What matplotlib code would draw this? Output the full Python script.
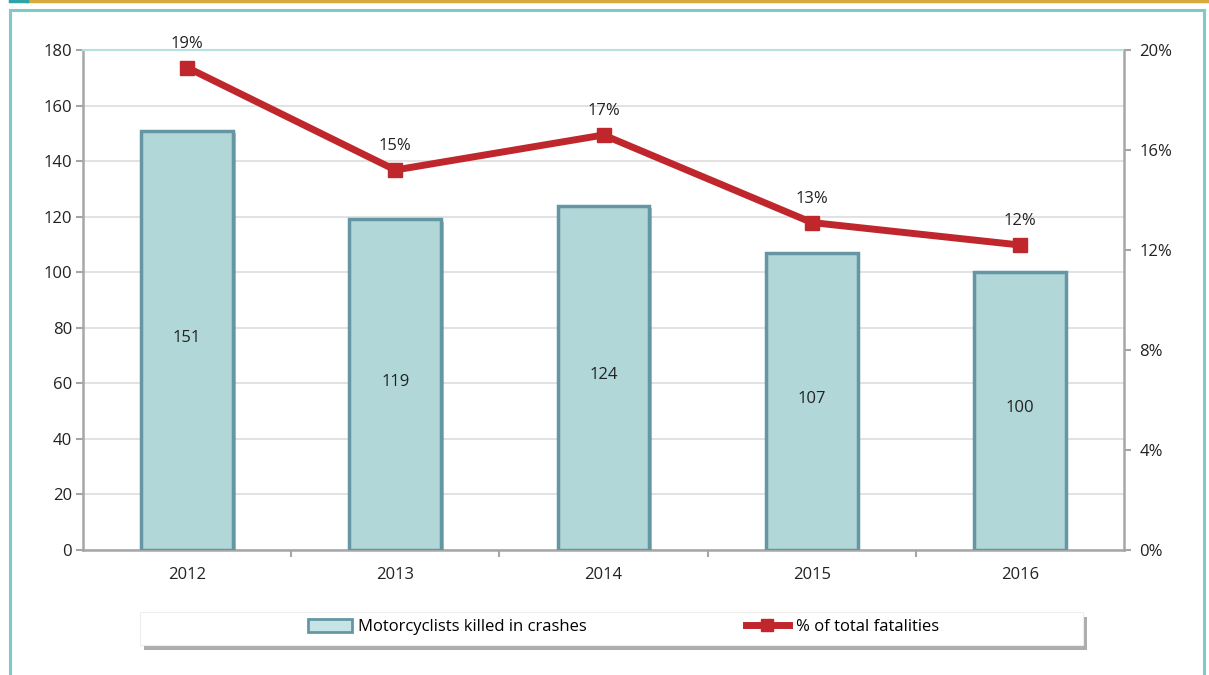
import matplotlib.pyplot as plt
import matplotlib.patheffects as pe
from matplotlib.patches import Rectangle
from matplotlib.lines import Line2D
from matplotlib.ticker import FuncFormatter, FixedLocator

plt.rcParams['font.family'] = ['Open Sans', 'DejaVu Sans']

# data
years = ['2012', '2013', '2014', '2015', '2016']
killed = [151, 119, 124, 107, 100]
pct_total = [19.3, 15.2, 16.6, 13.1, 12.2]
pct_labels = ['19%', '15%', '17%', '13%', '12%']
left_ticks = [0, 20, 40, 60, 80, 100, 120, 140, 160, 180]
right_ticks = [0, 4, 8, 12, 16, 20]

bar_fill = '#b1d7d9'
bar_edge = '#6497a3'
line_red = '#c0272d'
teal = '#7fc9cb'
axis_gray = '#a6a6a6'

fig = plt.figure(figsize=(12.09, 6.75), dpi=100)
ax = fig.add_axes([83 / 1209, 1 - 550 / 675, (1124 - 83) / 1209, 500 / 675])

x = list(range(len(years)))
bars = ax.bar(x, killed, width=0.44, color=bar_fill, edgecolor=bar_edge,
              linewidth=2.5, zorder=3)
for b in bars:
    b.set_path_effects([pe.SimplePatchShadow(offset=(2, -2), alpha=0.35),
                        pe.Normal()])
for xi, v in zip(x, killed):
    ax.text(xi, v / 2 + 1, str(v), ha='center', va='center', fontsize=12,
            color='#222222', zorder=5)

ax.set_xlim(-0.5, len(years) - 0.5)
ax.set_ylim(0, 180)
ax.set_yticks(left_ticks)
ax.set_xticks(x)
ax.set_xticklabels(years)
ax.xaxis.set_minor_locator(FixedLocator([i + 0.5 for i in range(len(years) - 1)]))
ax.tick_params(axis='x', which='major', length=0, pad=12, labelsize=12,
               labelcolor='#222222')
ax.tick_params(axis='x', which='minor', length=5, width=1.5, color=axis_gray)
ax.tick_params(axis='y', length=5, width=1.5, color=axis_gray, labelsize=12,
               labelcolor='#222222', pad=3)
ax.grid(axis='y', color='#dddddd', linewidth=1.2, zorder=0)
ax.set_axisbelow(True)
for s in ['left', 'bottom', 'right']:
    ax.spines[s].set_color(axis_gray)
    ax.spines[s].set_linewidth(1.8)
ax.spines['top'].set_color('#b5dfe2')
ax.spines['top'].set_linewidth(1.5)

ax2 = ax.twinx()
ax2.set_ylim(0, 20)
ax2.set_yticks(right_ticks)
ax2.yaxis.set_major_formatter(FuncFormatter(lambda v, p: f'{v:.0f}%'))
ax2.tick_params(axis='y', length=5, width=1.5, color=axis_gray, labelsize=12,
                labelcolor='#222222', pad=6)
for s in ax2.spines.values():
    s.set_visible(False)
ax2.plot(x, pct_total, color=line_red, linewidth=5, marker='s', markersize=10,
         zorder=4, solid_capstyle='butt')
for xi, v, lab in zip(x, pct_total, pct_labels):
    ax2.annotate(lab, (xi, v), xytext=(0, 17), textcoords='offset points',
                 ha='center', va='center', fontsize=12, color='#222222')

# legend box with shadow
lx0, ly0, lw, lh = 140 / 1209, 1 - 645 / 675, (1083 - 140) / 1209, 33 / 675
fig.patches.append(Rectangle((lx0 + 4 / 1209, ly0 - 5 / 675), lw, lh,
                             transform=fig.transFigure, facecolor='#777777',
                             edgecolor='none', alpha=0.6, zorder=1))
fig.patches.append(Rectangle((lx0, ly0), lw, lh, transform=fig.transFigure,
                             facecolor='white', edgecolor='#eeeeee',
                             linewidth=0.8, zorder=2))
handles = [
    Rectangle((0, 0), 1, 1, facecolor='#c5e4e6', edgecolor=bar_edge, linewidth=2),
    Line2D([], [], color=line_red, linewidth=5, marker='s', markersize=9),
]
fig.legend(handles, ['Motorcyclists killed in crashes', '% of total fatalities'],
           loc='center', bbox_to_anchor=(lx0 + lw / 2 + 0.01, ly0 + lh / 2 + 0.002),
           ncol=2, frameon=False, fontsize=12, columnspacing=9.5,
           handlelength=2.6, handleheight=0.8, handletextpad=0.4)

# outer frame
fig.patches.append(Rectangle((10 / 1209, -0.05), 1194 / 1209, 1.05 - 10 / 675,
                             transform=fig.transFigure, fill=False,
                             edgecolor=teal, linewidth=2.2))
fig.lines.append(Line2D([27 / 1209, 1], [1 - 1 / 675, 1 - 1 / 675],
                        transform=fig.transFigure, color='#d6aa3c', linewidth=2.5))
fig.lines.append(Line2D([10 / 1209, 27 / 1209], [1 - 1 / 675, 1 - 1 / 675],
                        transform=fig.transFigure, color='#2fa3a8', linewidth=2.5))

fig.savefig('out.png', dpi=100)
